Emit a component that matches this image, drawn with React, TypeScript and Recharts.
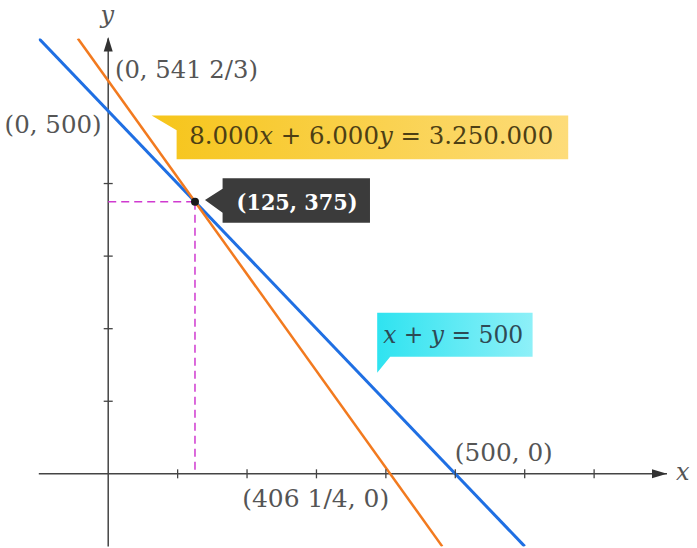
import React from 'react';
import { LineChart, Line, XAxis, YAxis, ReferenceLine, ReferenceDot } from 'recharts';

// ---- data ----
const xDomain: [number, number] = [-100, 805];
const yDomain: [number, number] = [-100, 600];
const blueLine = [
  { x: -100, y: 600 },
  { x: 600, y: -100 },
];
const orangeLine = [
  { x: -43.75, y: 600 },
  { x: 481.25, y: -100 },
];
const xTicks = [100, 200, 300, 400, 500, 600, 700];
const yTicks = [100, 200, 300, 400];
const intersection = { x: 125, y: 375 };
const yInterceptOrange = { x: 0, y: 541.67 };
const yInterceptBlue = { x: 0, y: 500 };
const xInterceptOrange = { x: 406.25, y: 0 };
const xInterceptBlue = { x: 500, y: 0 };
const cyanAnchor = { x: 387.5, y: 139.4 };

const FONT = '"DejaVu Serif", "Liberation Serif", serif';
const TXT = '#555555';
const AXIS = '#444444';

const XTick = (p: any) => (
  <line x1={p.cx} x2={p.cx} y1={p.cy - 4.5} y2={p.cy + 4.5} stroke={AXIS} strokeWidth={1.3} />
);
const YTick = (p: any) => (
  <line x1={p.cx - 4.5} x2={p.cx + 4.5} y1={p.cy} y2={p.cy} stroke={AXIS} strokeWidth={1.3} />
);
const XArrow = (p: any) => (
  <g>
    <path d={`M${p.cx},${p.cy} L${p.cx - 15},${p.cy - 4.5} L${p.cx - 15},${p.cy + 4.5} Z`} fill="#333" />
    <text x={p.cx + 9} y={p.cy + 6} fontFamily={FONT} fontStyle="italic" fontSize={24} fill={TXT}>x</text>
  </g>
);
const YArrow = (p: any) => (
  <g>
    <path d={`M${p.cx},${p.cy - 1.5} L${p.cx - 4.5},${p.cy + 13} L${p.cx + 4.5},${p.cy + 13} Z`} fill="#333" />
    <text x={p.cx - 1} y={p.cy - 15} textAnchor="middle" fontFamily={FONT} fontStyle="italic" fontSize={24} fill={TXT}>y</text>
  </g>
);

const LabelOrangeIntercept = (p: any) => (
  <g>
    <text x={p.cx + 6.7} y={p.cy - 2.8} fontFamily={FONT} fontSize={23.5} fill={TXT} textLength={143} lengthAdjust="spacingAndGlyphs">(0, 541 2/3)</text>
    <defs>
      <linearGradient id="yellowGrad" x1="0" y1="0" x2="1" y2="0">
        <stop offset="0%" stopColor="#f6c51a" />
        <stop offset="100%" stopColor="#fddc7a" />
      </linearGradient>
    </defs>
    <path
      d={`M${p.cx + 43.4},${p.cy + 34.7} L${p.cx + 460},${p.cy + 34.7} L${p.cx + 460},${p.cy + 78.5}
          L${p.cx + 68.4},${p.cy + 78.5} L${p.cx + 68.4},${p.cy + 49.5} Z`}
      fill="url(#yellowGrad)"
    />
    <text x={p.cx + 81} y={p.cy + 63} fontFamily={FONT} fontSize={23.5} fill="#4d3f14" textLength={364} lengthAdjust="spacingAndGlyphs">
      8.000<tspan fontStyle="italic">x</tspan> + 6.000<tspan fontStyle="italic">y</tspan> = 3.250.000
    </text>
  </g>
);

const LabelBlueIntercept = (p: any) => (
  <text x={p.cx - 6.6} y={p.cy + 22} textAnchor="end" fontFamily={FONT} fontSize={23.5} fill={TXT} textLength={97} lengthAdjust="spacingAndGlyphs">(0, 500)</text>
);
const LabelBlueX = (p: any) => (
  <text x={p.cx - 0.5} y={p.cy - 13} fontFamily={FONT} fontSize={23.5} fill={TXT} textLength={98} lengthAdjust="spacingAndGlyphs">(500, 0)</text>
);
const LabelOrangeX = (p: any) => (
  <text x={p.cx - 1} y={p.cy + 33.5} textAnchor="end" fontFamily={FONT} fontSize={23.5} fill={TXT} textLength={147} lengthAdjust="spacingAndGlyphs">(406 1/4, 0)</text>
);

const IntersectionCallout = (p: any) => (
  <g>
    <path
      d={`M${p.cx + 10},${p.cy - 1.7} L${p.cx + 27.6},${p.cy - 13} L${p.cx + 27.6},${p.cy - 23.4}
          L${p.cx + 175},${p.cy - 23.4} L${p.cx + 175},${p.cy + 21} L${p.cx + 27.6},${p.cy + 21}
          L${p.cx + 27.6},${p.cy + 11} Z`}
      fill="#3b3b3b"
    />
    <text x={p.cx + 41.6} y={p.cy + 8.8} fontFamily={FONT} fontWeight="bold" fontSize={23} fill="#ffffff" textLength={121} lengthAdjust="spacingAndGlyphs">(125, 375)</text>
    <circle cx={p.cx} cy={p.cy} r={4} fill="#1a1a1a" />
  </g>
);

const CyanCallout = (p: any) => (
  <g>
    <defs>
      <linearGradient id="cyanGrad" x1="0" y1="0" x2="1" y2="0">
        <stop offset="0%" stopColor="#2fe3f0" />
        <stop offset="100%" stopColor="#8ef0f8" />
      </linearGradient>
    </defs>
    <path
      d={`M${p.cx},${p.cy} L${p.cx},${p.cy - 60} L${p.cx + 155.4},${p.cy - 60} L${p.cx + 155.4},${p.cy - 16}
          L${p.cx + 13},${p.cy - 16} Z`}
      fill="url(#cyanGrad)"
    />
    <text x={p.cx + 6} y={p.cy - 29.4} fontFamily={FONT} fontSize={23.5} fill="#2e4a55" textLength={140} lengthAdjust="spacingAndGlyphs">
      <tspan fontStyle="italic">x</tspan> + <tspan fontStyle="italic">y</tspan> = 500
    </text>
  </g>
);

export default function App() {
  return (
    <div style={{ position: 'absolute', left: 0, top: 0, width: 697, height: 548, background: '#ffffff' }}>
      <LineChart width={697} height={548} margin={{ top: 38.4, right: 30, bottom: 1.6, left: 38.8 }}>
        <XAxis type="number" dataKey="x" domain={xDomain} hide allowDataOverflow />
        <YAxis type="number" dataKey="y" domain={yDomain} hide allowDataOverflow />
        <ReferenceLine y={0} stroke={AXIS} strokeWidth={1.5} />
        <ReferenceLine x={0} stroke={AXIS} strokeWidth={1.5} />
        {xTicks.map((t) => (
          <ReferenceDot key={'xt' + t} x={t} y={0} r={0} shape={XTick} />
        ))}
        {yTicks.map((t) => (
          <ReferenceDot key={'yt' + t} x={0} y={t} r={0} shape={YTick} />
        ))}
        <ReferenceDot x={xDomain[1]} y={0} r={0} shape={XArrow} ifOverflow="visible" />
        <ReferenceDot x={0} y={yDomain[1]} r={0} shape={YArrow} ifOverflow="visible" />
        <ReferenceLine
          segment={[{ x: 0, y: intersection.y }, { x: intersection.x, y: intersection.y }]}
          stroke="#d03ad0"
          strokeWidth={1.5}
          strokeDasharray="8 5"
        />
        <ReferenceLine
          segment={[{ x: intersection.x, y: intersection.y }, { x: intersection.x, y: 0 }]}
          stroke="#d03ad0"
          strokeWidth={1.5}
          strokeDasharray="8 5"
        />
        <Line data={blueLine} dataKey="y" type="linear" stroke="#1f6fe3" strokeWidth={3} dot={false} isAnimationActive={false} />
        <Line data={orangeLine} dataKey="y" type="linear" stroke="#f27a1f" strokeWidth={2.5} dot={false} isAnimationActive={false} />
        <ReferenceDot x={yInterceptOrange.x} y={yInterceptOrange.y} r={0} shape={LabelOrangeIntercept} />
        <ReferenceDot x={yInterceptBlue.x} y={yInterceptBlue.y} r={0} shape={LabelBlueIntercept} />
        <ReferenceDot x={xInterceptBlue.x} y={xInterceptBlue.y} r={0} shape={LabelBlueX} />
        <ReferenceDot x={xInterceptOrange.x} y={xInterceptOrange.y} r={0} shape={LabelOrangeX} />
        <ReferenceDot x={cyanAnchor.x} y={cyanAnchor.y} r={0} shape={CyanCallout} />
        <ReferenceDot x={intersection.x} y={intersection.y} r={0} shape={IntersectionCallout} />
      </LineChart>
    </div>
  );
}
